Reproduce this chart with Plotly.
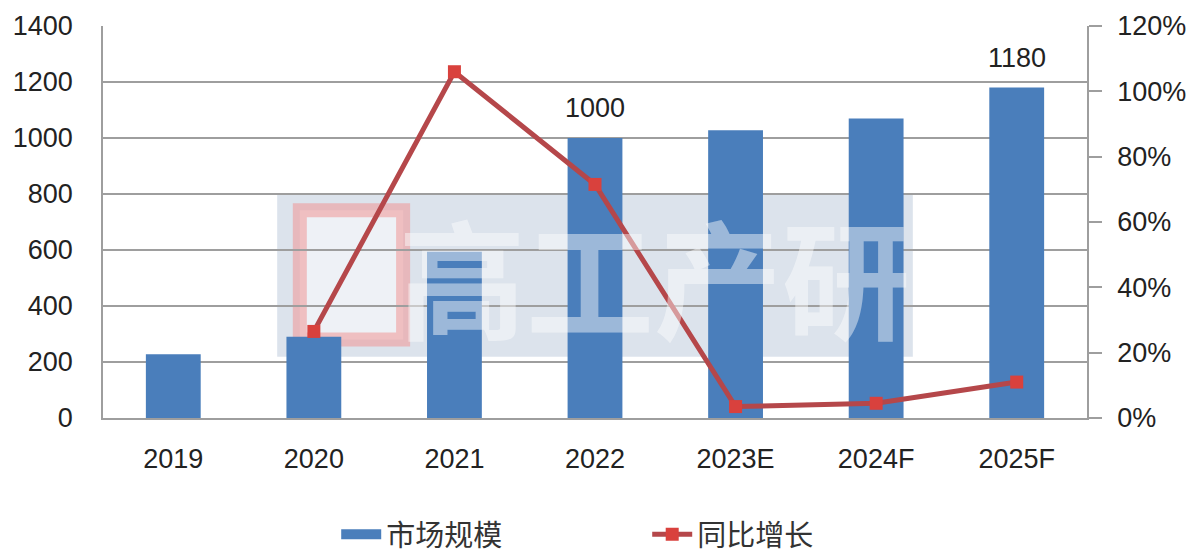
import plotly.graph_objects as go

categories = ["2019", "2020", "2021", "2022", "2023E", "2024F", "2025F"]
market_size = [228, 290, 594, 1000, 1028, 1070, 1180]
yoy_growth = [None, 0.265, 1.06, 0.715, 0.035, 0.045, 0.11]
labelled = ["2022", "2025F"]

FONT = "Liberation Sans, Arial, sans-serif"
CJK = "Noto Sans CJK SC, sans-serif"
BLUE = "#4A7EBB"
RED_LINE = "#B5474A"
RED_MARK = "#D9413D"
GRID = "#9E9E9E"

fig = go.Figure()
fig.add_trace(go.Bar(
    x=categories, y=market_size, name="市场规模",
    marker=dict(color=BLUE, line=dict(width=0)),
    yaxis="y", showlegend=False, legendgroup="size",
))
# legend entry for the bars (wide block like the original)
fig.add_trace(go.Scatter(
    x=[None], y=[None], name="市场规模", mode="lines",
    line=dict(color=BLUE, width=12), legendgroup="size", hoverinfo="skip",
))
fig.add_trace(go.Scatter(
    x=categories, y=yoy_growth, name="同比增长",
    mode="lines+markers",
    line=dict(color=RED_LINE, width=5),
    marker=dict(symbol="square", size=13, color=RED_MARK),
    yaxis="y2", connectgaps=False,
))

for cat in labelled:
    i = categories.index(cat)
    val = market_size[i]
    fig.add_annotation(x=i, y=val, xref="x", yref="y", text=str(val),
                       showarrow=False, yshift=30,
                       font=dict(family=FONT, size=27, color="#222"))

# watermark
fig.add_shape(type="rect", xref="paper", yref="paper",
              x0=0.177, x1=0.823, y0=0.156, y1=0.574,
              fillcolor="rgba(205,215,228,0.7)", line=dict(width=0), layer="between")
fig.add_shape(type="rect", xref="paper", yref="paper",
              x0=0.200, x1=0.305, y0=0.20, y1=0.53,
              fillcolor="rgba(255,255,255,0.5)",
              line=dict(color="rgba(240,150,150,0.55)", width=14), layer="between")
fig.add_annotation(xref="paper", yref="paper", x=0.56, y=0.365,
                   text="<b>高工产研</b>", showarrow=False, opacity=0.45,
                   font=dict(family=CJK, size=128, color="white"))

fig.update_layout(
    width=1190, height=554,
    margin=dict(l=103, r=103, t=26, b=136, autoexpand=False),
    paper_bgcolor="white", plot_bgcolor="white",
    bargap=0.61,
    font=dict(family=FONT, size=27, color="#222"),
    showlegend=True,
    legend=dict(orientation="h", x=0.237, xanchor="left", y=-0.297, yanchor="middle",
                font=dict(family=CJK, size=29, color="#333"),
                entrywidth=256, entrywidthmode="pixels", itemwidth=40),
    xaxis=dict(type="category", showline=True, linecolor=GRID, linewidth=1.5, ticks="",
               tickfont=dict(family=FONT, size=27, color="#222"), showgrid=False,
               ticklabelstandoff=16, automargin=False),
    yaxis=dict(range=[0, 1400], dtick=200, showgrid=True, gridcolor=GRID, gridwidth=1.5,
               showline=True, linecolor=GRID, linewidth=1.5, ticks="",
               tickfont=dict(family=FONT, size=27, color="#222"), zeroline=False,
               ticklabelstandoff=23, automargin=False),
    yaxis2=dict(range=[0, 1.2], dtick=0.2, tickformat=".0%", overlaying="y", side="right",
                showgrid=False, showline=True, linecolor=GRID, linewidth=1.5,
                ticks="outside", ticklen=13, tickcolor=GRID, tickwidth=1.5,
                tickfont=dict(family=FONT, size=27, color="#222"), zeroline=False,
                ticklabelstandoff=10, automargin=False),
)

fig.write_html("out.html", config={"displayModeBar": False},
               post_script="document.body.style.margin='0';document.body.style.padding='0';")
